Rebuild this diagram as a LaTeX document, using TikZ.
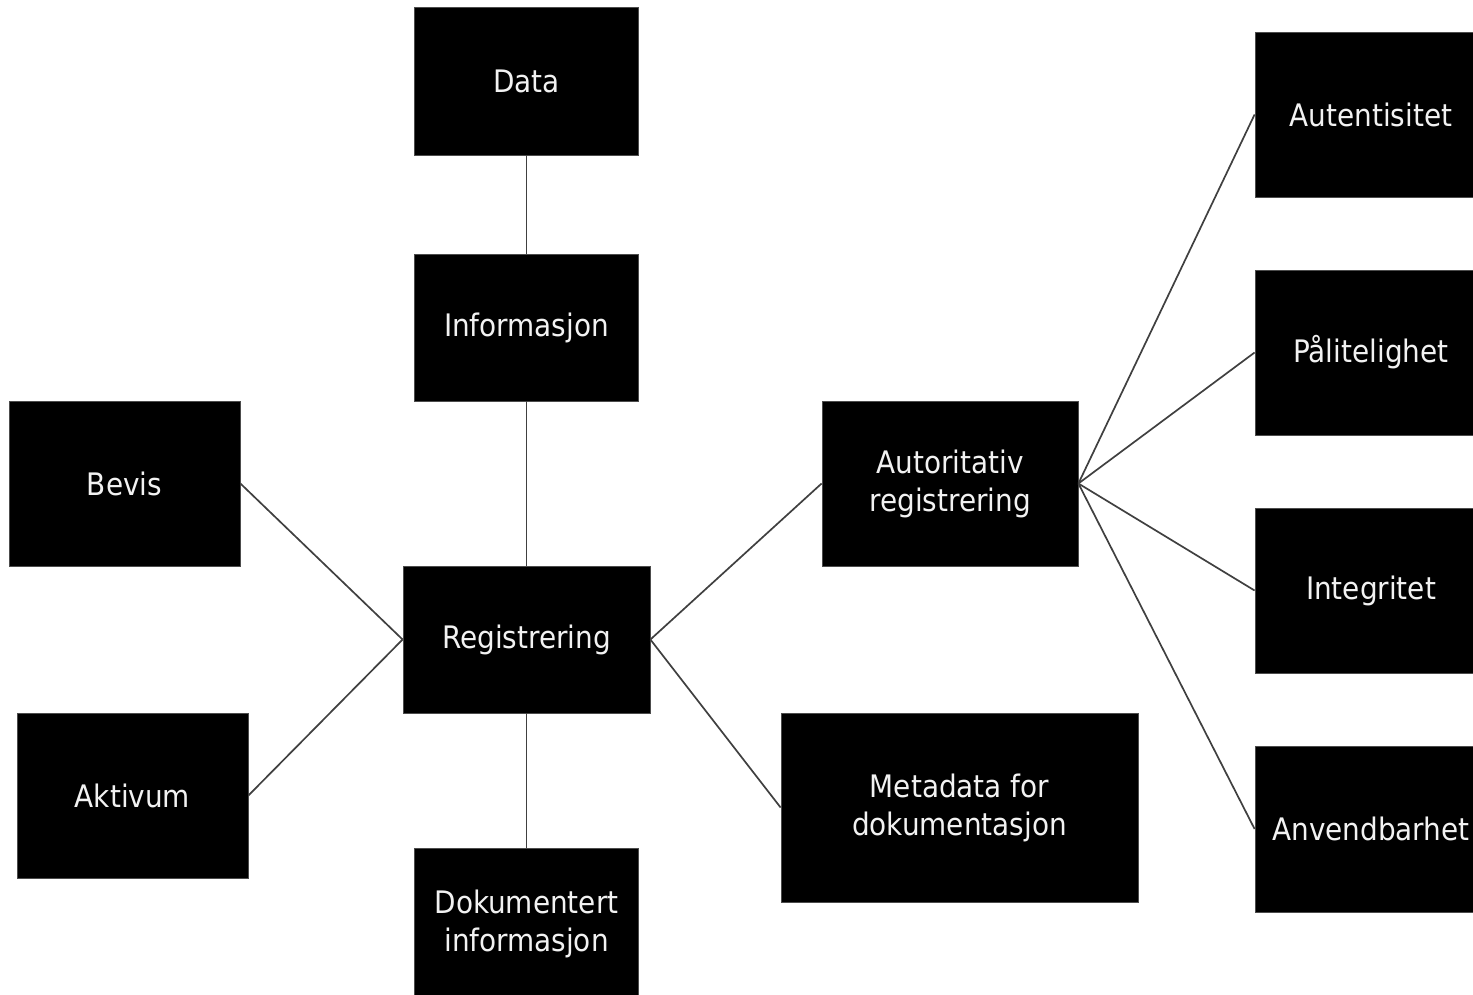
\documentclass[tikz,border=0pt]{standalone}
\usepackage{fontspec}
\setmainfont{DejaVu Sans Condensed}
\begin{document}
\begin{tikzpicture}[x=1pt,y=-1pt,
  box/.style={draw=black!70,line width=0.8pt,fill=black,text=black!5,
    inner sep=0pt,align=center,font=\fontsize{31}{38}\selectfont},
  link/.style={draw=black!75,line width=1.7pt}]
\useasboundingbox (0,0) rectangle (1473,994);
\clip (0,0) rectangle (1473,994);
% central column
\node[box,minimum width=224,minimum height=148] (data) at (526.5,81) {Data};
\node[box,minimum width=224,minimum height=147] (info) at (526.5,327.5) {Informasjon};
\node[box,minimum width=247,minimum height=147] (reg) at (526.5,639.5) {Registrering};
\node[box,minimum width=224,minimum height=152] (dok) at (526.5,924) {Dokumentert\\informasjon};
% left side
\node[box,minimum width=231,minimum height=165] (bevis) at (124.5,483.5) {Bevis};
\node[box,minimum width=231,minimum height=165] (aktiv) at (132.5,795.5) {Aktivum};
% right side
\node[box,minimum width=256,minimum height=165] (auto) at (950,483.5) {Autoritativ\\registrering};
\node[box,minimum width=357,minimum height=189] (meta) at (959.5,807.5) {Metadata for\\dokumentasjon};
% qualities
\node[box,minimum width=232,minimum height=165] (autent) at (1371,114.5) {Autentisitet};
\node[box,minimum width=232,minimum height=165] (pal) at (1371,352.5) {Pålitelighet};
\node[box,minimum width=232,minimum height=165] (integ) at (1371,590.5) {Integritet};
\node[box,minimum width=232,minimum height=166] (anv) at (1371,829) {Anvendbarhet};
% connectors
\draw[link] (data.south) -- (info.north);
\draw[link] (info.south) -- (reg.north);
\draw[link] (reg.south) -- (dok.north);
\draw[link] (bevis.east) -- (reg.west);
\draw[link] (aktiv.east) -- (reg.west);
\draw[link] (reg.east) -- (auto.west);
\draw[link] (reg.east) -- (meta.west);
\foreach \t in {autent,pal,integ,anv}
  \draw[link] (auto.east) -- (\t.west);
\end{tikzpicture}
\end{document}
